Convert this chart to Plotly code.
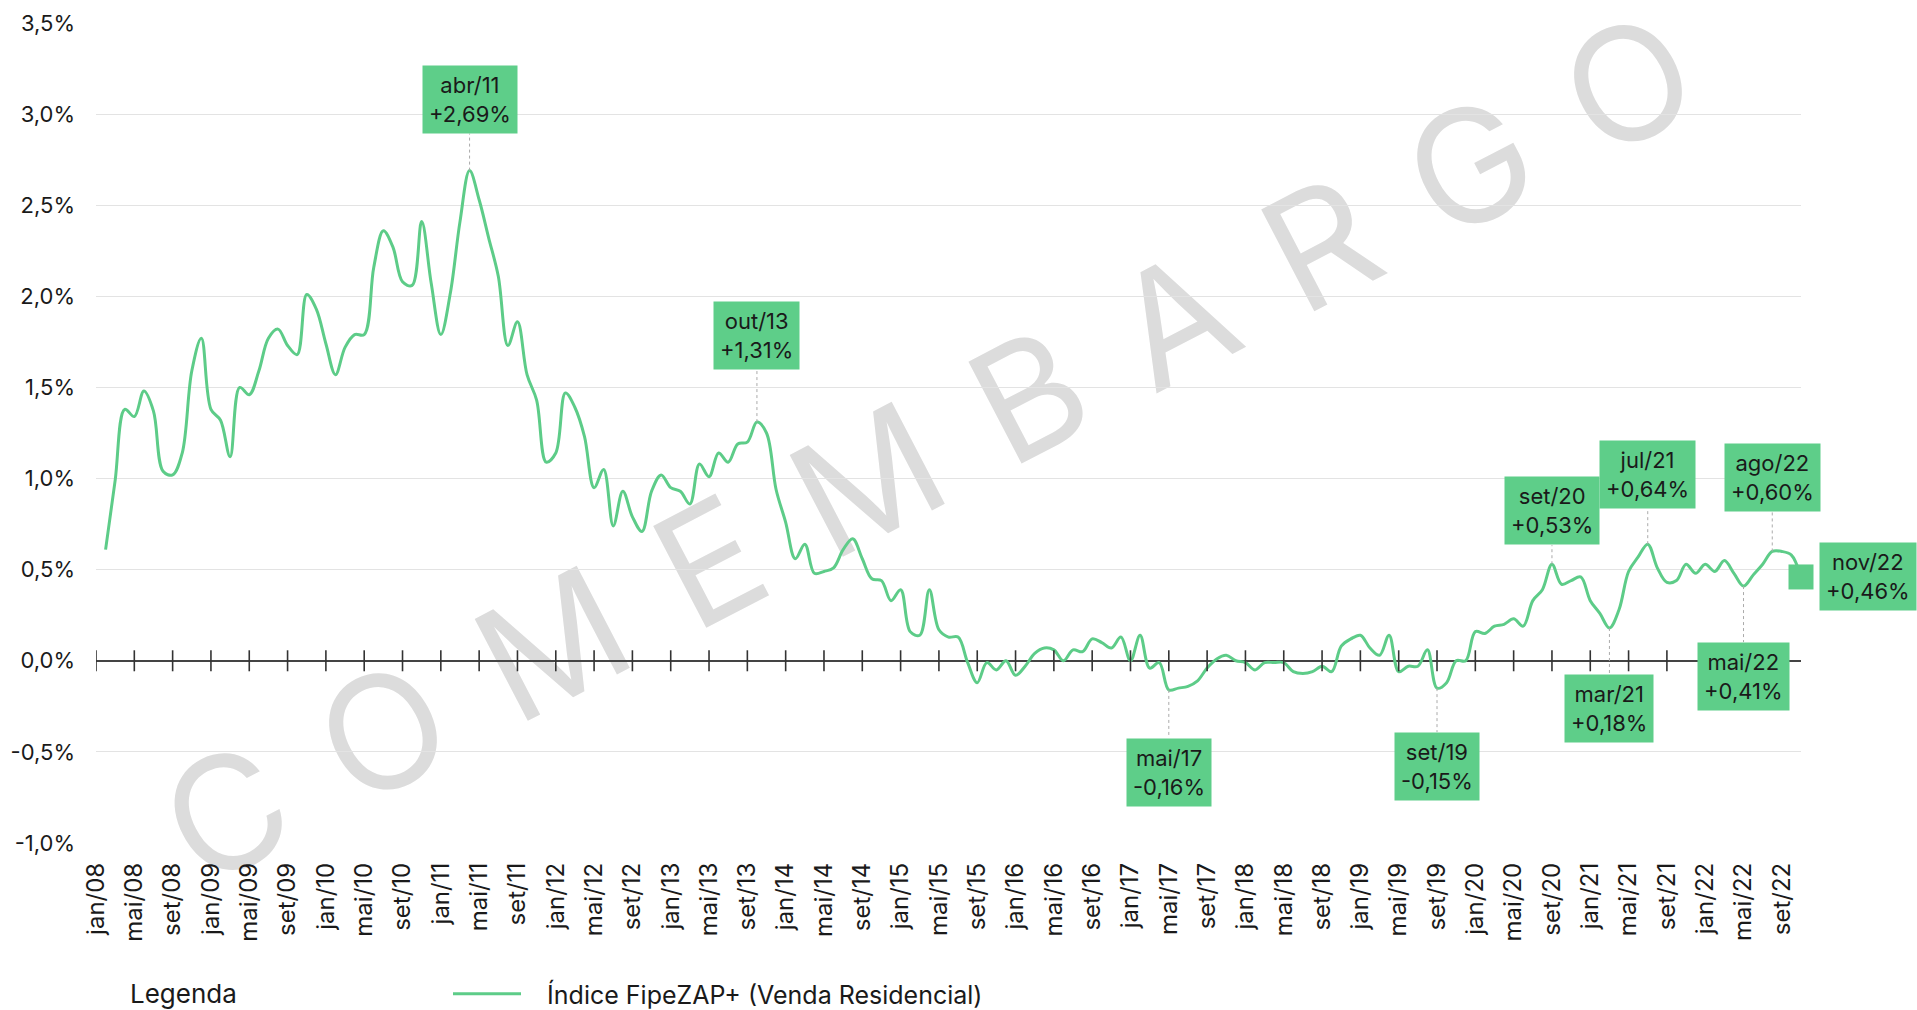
import plotly.graph_objects as go

# ---------------- data ----------------
MONTH_ABBR = ["jan", "fev", "mar", "abr", "mai", "jun", "jul", "ago", "set", "out", "nov", "dez"]
YEARS = list(range(2008, 2023))
categories = [f"{m}/{y % 100:02d}" for y in YEARS for m in MONTH_ABBR][:179]  # jan/08 .. nov/22

series_name = "Índice FipeZAP+ (Venda Residencial)"
x_months = categories[1:]  # fev/08 .. nov/22

values = (
    [0.61, 0.99, 1.38, 1.34, 1.48, 1.37, 1.04, 1.02, 1.14, 1.59, 1.77]                 # 2008 (fev-dez)
    + [1.38, 1.32, 1.12, 1.50, 1.46, 1.59, 1.77, 1.82, 1.73, 1.68, 2.01, 1.93]        # 2009
    + [1.74, 1.57, 1.72, 1.79, 1.79, 2.16, 2.36, 2.27, 2.08, 2.06, 2.41, 2.07]        # 2010
    + [1.79, 2.02, 2.41, 2.69, 2.53, 2.32, 2.11, 1.73, 1.86, 1.57, 1.43, 1.09]        # 2011
    + [1.14, 1.47, 1.39, 1.23, 0.95, 1.05, 0.74, 0.93, 0.79, 0.71, 0.93, 1.02]        # 2012
    + [0.95, 0.93, 0.86, 1.08, 1.01, 1.14, 1.09, 1.19, 1.20, 1.31, 1.25, 0.94]        # 2013
    + [0.76, 0.56, 0.64, 0.48, 0.49, 0.51, 0.61, 0.67, 0.56, 0.45, 0.44, 0.33]        # 2014
    + [0.39, 0.16, 0.14, 0.39, 0.17, 0.13, 0.13, -0.01, -0.12, -0.01, -0.05, 0.00]    # 2015
    + [-0.08, -0.03, 0.04, 0.07, 0.06, 0.00, 0.06, 0.05, 0.12, 0.10, 0.07, 0.13]      # 2016
    + [0.00, 0.14, -0.04, -0.01, -0.16, -0.15, -0.14, -0.11, -0.04, 0.01, 0.03, 0.00] # 2017
    + [-0.01, -0.05, -0.01, -0.01, -0.01, -0.06, -0.07, -0.06, -0.03, -0.06, 0.08, 0.12]  # 2018
    + [0.14, 0.07, 0.03, 0.14, -0.06, -0.03, -0.03, 0.06, -0.15, -0.12, 0.00, 0.00]   # 2019
    + [0.16, 0.15, 0.19, 0.20, 0.23, 0.19, 0.33, 0.39, 0.53, 0.42, 0.44, 0.46]        # 2020
    + [0.33, 0.26, 0.18, 0.28, 0.49, 0.57, 0.64, 0.51, 0.43, 0.44, 0.53, 0.48]        # 2021
    + [0.53, 0.49, 0.55, 0.48, 0.41, 0.47, 0.53, 0.60, 0.60, 0.58, 0.46]              # 2022 (jan-nov)
)

tick_months = categories[::4]
y_ticks = [-1.0, -0.5, 0.0, 0.5, 1.0, 1.5, 2.0, 2.5, 3.0, 3.5]
y_tick_text = ["-1,0%", "-0,5%", "0,0%", "0,5%", "1,0%", "1,5%", "2,0%", "2,5%", "3,0%", "3,5%"]

highlight_months = ["abr/11", "out/13", "mai/17", "set/19", "set/20",
                    "mar/21", "jul/21", "mai/22", "ago/22", "nov/22"]

watermark_text = "C O M E M B A R G O"
legend_title = "Legenda"

# ---------------- style ----------------
GREEN = "#5DCC88"
BOX_GREEN = "#5ECE89"
FONT = "Inter, sans-serif"
TEXT = "#1a1a1a"

# label placement (side, gap in px between point and box)
label_style = {
    "abr/11": ("above", 37), "out/13": ("above", 52), "mai/17": ("below", 48),
    "set/19": ("below", 44), "set/20": ("above", 19), "mar/21": ("below", 46),
    "jul/21": ("above", 35), "mai/22": ("below", 56), "ago/22": ("above", 39),
    "nov/22": ("right", 18),
}

idx = {c: i for i, c in enumerate(categories)}
x_idx = [idx[m] for m in x_months]
val_of = dict(zip(x_months, values))


def fmt(v):
    return ("+" if v >= 0 else "-") + f"{abs(v):.2f}".replace(".", ",") + "%"


fig = go.Figure()

fig.add_trace(go.Scatter(
    x=x_idx, y=values, mode="lines", name="\u00a0\u00a0\u00a0" + series_name,
    line=dict(color=GREEN, width=3, shape="spline", smoothing=1.0),
    hoverinfo="skip",
))

# axis tick marks crossing the zero line
fig.add_trace(go.Scatter(
    x=[idx[m] for m in tick_months], y=[0] * len(tick_months), mode="markers",
    marker=dict(symbol="line-ns", size=15, line=dict(width=1.6, color="#333333")),
    showlegend=False, hoverinfo="skip",
))

# last point marker
last = x_months[-1]
fig.add_trace(go.Scatter(
    x=[idx[last]], y=[val_of[last]], mode="markers",
    marker=dict(symbol="square", size=25, color=GREEN),
    showlegend=False, hoverinfo="skip", cliponaxis=False,
))

annotations = []
shapes = []
for m in highlight_months:
    v = val_of[m]
    side, gap = label_style[m]
    text = f"{m}<br>{fmt(v)}"
    common = dict(x=idx[m], y=v, xref="x", yref="y", text=text, showarrow=False,
                  bgcolor=BOX_GREEN, borderpad=6,
                  font=dict(family=FONT, size=22, color=TEXT))
    if side == "above":
        annotations.append(dict(**common, xanchor="center", yanchor="bottom", yshift=gap))
        shapes.append(dict(type="line", xref="x", yref="y", ysizemode="pixel", yanchor=v,
                           x0=idx[m], x1=idx[m], y0=0, y1=gap,
                           line=dict(color="#aaaaaa", width=1, dash="dot")))
    elif side == "below":
        annotations.append(dict(**common, xanchor="center", yanchor="top", yshift=-gap))
        shapes.append(dict(type="line", xref="x", yref="y", ysizemode="pixel", yanchor=v,
                           x0=idx[m], x1=idx[m], y0=0, y1=-gap,
                           line=dict(color="#aaaaaa", width=1, dash="dot")))
    else:
        annotations.append(dict(**common, xanchor="left", yanchor="middle", xshift=gap))

# legend title (left of the legend entry)
annotations.append(dict(x=(128 - 96) / 1705, y=(843 - 993) / 820, xref="paper", yref="paper",
                        xanchor="left", yanchor="middle", text=legend_title, showarrow=False,
                        font=dict(family=FONT, size=26, color=TEXT)))

# watermark (drawn between grid and traces)
wm = watermark_text.replace(" ", "\u00a0\u200a")
shapes.append(dict(type="rect", xref="paper", yref="paper",
                   x0=0.4368, x1=0.5368, y0=0.4378, y1=0.5378,
                   line=dict(width=0), fillcolor="rgba(0,0,0,0)", layer="between",
                   label=dict(text=wm, textangle=-27.5, textposition="middle center",
                              font=dict(family=FONT, size=158, color="#dcdcdc"))))

fig.update_layout(
    width=1917, height=1010,
    margin=dict(l=96, r=116, t=23, b=167, pad=0, autoexpand=False),
    paper_bgcolor="white", plot_bgcolor="white",
    font=dict(family=FONT, color=TEXT),
    xaxis=dict(range=[0, len(categories) - 1], tickmode="array",
               tickvals=[idx[m] for m in tick_months], ticktext=tick_months,
               tickangle=-90, ticks="", showgrid=False, zeroline=False, showline=False,
               automargin=False,
               tickfont=dict(family=FONT, size=24, color=TEXT), ticklabelstandoff=14),
    yaxis=dict(range=[-1.0, 3.5], tickmode="array", tickvals=y_ticks, ticktext=y_tick_text,
               ticks="", showgrid=True, gridcolor="#e3e3e3", gridwidth=1, automargin=False,
               zeroline=True, zerolinecolor="#444444", zerolinewidth=2, showline=False,
               tickfont=dict(family=FONT, size=22, color=TEXT), ticklabelstandoff=20),
    showlegend=True,
    legend=dict(orientation="h", x=448 / 1917, xref="container", xanchor="left",
                y=1 - 994 / 1010, yref="container", yanchor="middle",
                font=dict(family=FONT, size=25, color=TEXT), itemwidth=68,
                bgcolor="rgba(0,0,0,0)"),
    annotations=annotations,
    shapes=shapes,
)

fig.write_html("out.html", config={"displayModeBar": False},
               post_script="document.body.style.margin='0';")
